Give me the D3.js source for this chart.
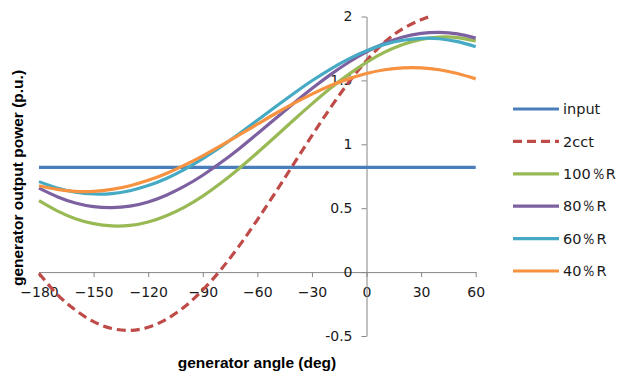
<!DOCTYPE html>
<html>
<head>
<meta charset="utf-8">
<script src="https://cdn.jsdelivr.net/npm/d3@7/dist/d3.min.js"></script>
<style>
  html, body { margin: 0; padding: 0; background: #fff; }
  svg { display: block; }
</style>
</head>
<body>
<svg id="chart" width="622" height="372"></svg>
<script>
// ---- data ----
const angles = [-180,-170,-160,-150,-140,-130,-120,-110,-100,-90,-80,-70,-60,-50,-40,-30,-20,-10,0,10,20,30,40,50,60];
const inputVals = [0.82,0.82,0.82,0.82,0.82,0.82,0.82,0.82,0.82,0.82,0.82,0.82,0.82,0.82,0.82,0.82,0.82,0.82,0.82,0.82,0.82,0.82,0.82,0.82,0.82];
const cct2Angles = [-180,-170,-160,-150,-140,-130,-120,-110,-100,-90,-80,-70,-60,-50,-40,-30,-20,-10,0,10,20,30,35];
const cct2Vals = [-0.01,-0.174,-0.297,-0.388,-0.441,-0.456,-0.432,-0.369,-0.271,-0.140,0.020,0.205,0.409,0.625,0.847,1.068,1.282,1.481,1.655,1.800,1.905,1.975,2.00];
const r100Vals = [0.559,0.479,0.418,0.379,0.361,0.365,0.392,0.441,0.509,0.595,0.697,0.811,0.934,1.061,1.190,1.316,1.436,1.545,1.641,1.721,1.781,1.821,1.839,1.835,1.808];
const r80Vals  = [0.657,0.590,0.541,0.512,0.504,0.516,0.549,0.602,0.672,0.758,0.857,0.966,1.083,1.202,1.321,1.436,1.543,1.640,1.723,1.790,1.839,1.868,1.876,1.864,1.831];
const r60Vals  = [0.708,0.658,0.626,0.611,0.614,0.637,0.677,0.733,0.804,0.888,0.982,1.083,1.188,1.294,1.398,1.497,1.587,1.666,1.732,1.782,1.814,1.829,1.826,1.803,1.764];
const r40Vals  = [0.676,0.647,0.632,0.632,0.647,0.676,0.718,0.772,0.837,0.910,0.989,1.073,1.157,1.241,1.320,1.393,1.458,1.512,1.554,1.583,1.598,1.598,1.583,1.554,1.512];
const xTicks = [-180,-150,-120,-90,-60,-30,0,30,60];
const yTicks = [-0.5,0,0.5,1,1.5,2];
const seriesNames = ["input","2cct","100％R","80％R","60％R","40％R"];

// ---- build ----
const series = [
  {name: seriesNames[0], xs: angles, ys: inputVals, color: "#4A7EBB", dash: null},
  {name: seriesNames[1], xs: cct2Angles, ys: cct2Vals, color: "#BE4B48", dash: "9,5"},
  {name: seriesNames[2], xs: angles, ys: r100Vals, color: "#98B954", dash: null},
  {name: seriesNames[3], xs: angles, ys: r80Vals, color: "#7D60A0", dash: null},
  {name: seriesNames[4], xs: angles, ys: r60Vals, color: "#46AAC5", dash: null},
  {name: seriesNames[5], xs: angles, ys: r40Vals, color: "#F69240", dash: null}
];

const svg = d3.select("#chart");
const x = d3.scaleLinear().domain([-180, 60]).range([39, 475.7]);
const y = d3.scaleLinear().domain([-0.5, 2]).range([336, 16.5]);

const axisColor = "#868686";
const fontTick = "'DejaVu Sans', sans-serif";

// x axis at y=0
const xAxis = d3.axisBottom(x).tickValues(xTicks).tickSize(5).tickSizeOuter(0).tickPadding(10)
  .tickFormat(d => d < 0 ? "\u2212" + Math.abs(d) : String(d));
const gx = svg.append("g").attr("transform", `translate(0,${y(0)})`).call(xAxis);
gx.select(".domain").attr("stroke", axisColor);
gx.selectAll(".tick line").attr("stroke", axisColor);
gx.selectAll(".tick text").attr("fill", "#1a1a1a").style("font-family", fontTick).style("font-size", "14px");

// y axis at x=0
const yAxis = d3.axisLeft(y).tickValues(yTicks).tickSize(5).tickSizeOuter(0).tickPadding(9)
  .tickFormat(d => String(d));
const gy = svg.append("g").attr("transform", `translate(${x(0)},0)`).call(yAxis);
gy.select(".domain").attr("stroke", axisColor);
gy.selectAll(".tick line").attr("stroke", axisColor);
gy.selectAll(".tick text").attr("fill", "#1a1a1a").style("font-family", fontTick).style("font-size", "14px");

// lines
const line = d3.line().x(d => x(d[0])).y(d => y(d[1])).curve(d3.curveNatural);
series.forEach(s => {
  const pts = s.xs.map((a, i) => [a, s.ys[i]]);
  svg.append("path").datum(pts)
    .attr("d", line)
    .attr("fill", "none")
    .attr("stroke", s.color)
    .attr("stroke-width", 3.2)
    .attr("stroke-dasharray", s.dash)
    .attr("stroke-linejoin", "round");
});

// legend
const lg = svg.append("g");
series.forEach((s, i) => {
  const yy = 109 + i * 32.4;
  lg.append("line").attr("x1", 513).attr("x2", 559).attr("y1", yy).attr("y2", yy)
    .attr("stroke", s.color).attr("stroke-width", 3.2).attr("stroke-dasharray", s.dash);
  lg.append("text").attr("x", 563).attr("y", yy).attr("dy", "0.36em")
    .style("font-family", fontTick).style("font-size", "14.5px").attr("fill", "#1a1a1a")
    .text(s.name);
});

// axis titles
svg.append("text").attr("x", 257).attr("y", 368).attr("text-anchor", "middle")
  .style("font-family", "'Liberation Sans', Arial, sans-serif").style("font-weight", "bold").style("font-size", "15.5px")
  .attr("fill", "#000").text("generator angle (deg)");
svg.append("text").attr("transform", "translate(23,178) rotate(-90)").attr("text-anchor", "middle")
  .style("font-family", "'Liberation Sans', Arial, sans-serif").style("font-weight", "bold").style("font-size", "15.5px")
  .attr("fill", "#000").text("generator output power (p.u.)");
</script>
</body>
</html>
